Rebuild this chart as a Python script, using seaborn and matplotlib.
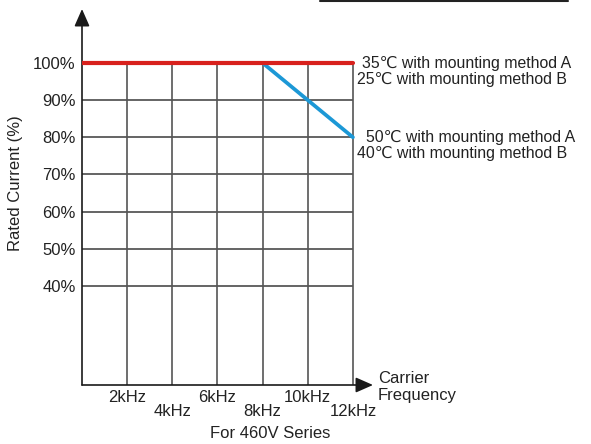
import matplotlib
matplotlib.use("Agg")
import matplotlib.pyplot as plt
from matplotlib.lines import Line2D
import pandas as pd
import seaborn as sns

# carrier frequency (kHz) vs rated current (%)
freq_flat = [0, 2, 4, 6, 8, 10, 12]
current_flat = [100, 100, 100, 100, 100, 100, 100]
freq_derate = [0, 8, 10, 12]
current_derate = [100, 100, 90, 80]

x_ticks = [2, 4, 6, 8, 10, 12]
x_labels = ["2kHz", "4kHz", "6kHz", "8kHz", "10kHz", "12kHz"]
y_ticks = [40, 50, 60, 70, 80, 90, 100]
y_labels = ["40%", "50%", "60%", "70%", "80%", "90%", "100%"]

label_top = ["35\u2103 with mounting method A", "25\u2103 with mounting method B"]
label_bottom = ["50\u2103 with mounting method A", "40\u2103 with mounting method B"]

sns.set_style("white")
plt.rcParams["font.family"] = ["Liberation Sans", "DejaVu Sans"]
plt.rcParams["font.size"] = 12

W, H = 591, 444
fig = plt.figure(figsize=(W / 100, H / 100), dpi=100)
ax = fig.add_axes([82 / W, (H - 385) / H, 291 / W, 376 / H])
x_min, x_max = 0, 12.89
y_min, y_max = 13.37, 114.5
ax.set_xlim(x_min, x_max)
ax.set_ylim(y_min, y_max)
for s in ax.spines.values():
    s.set_visible(False)

grid_col = "#3a3a3a"
ax.hlines(y_ticks[:-1], 0, 12, color=grid_col, lw=1.1, zorder=1)
ax.vlines(x_ticks, y_min, 100, color="#555555", lw=1.2, zorder=1)

flat = pd.DataFrame({"freq": freq_flat, "current": current_flat})
derate = pd.DataFrame({"freq": freq_derate, "current": current_derate})
sns.lineplot(data=derate, x="freq", y="current", color="#1c98d6", lw=2.7, ax=ax, zorder=3)
sns.lineplot(data=flat, x="freq", y="current", color="#d8211d", lw=3.0, ax=ax, zorder=4)

# axes with arrowheads
ax.annotate("", xy=(0, y_max), xytext=(0, y_min),
            arrowprops=dict(arrowstyle="-|>,head_length=0.75,head_width=0.33", color="#1a1a1a",
                            lw=1.2, shrinkA=0, shrinkB=0, mutation_scale=14), zorder=2)
ax.annotate("", xy=(x_max, y_min), xytext=(0, y_min),
            arrowprops=dict(arrowstyle="-|>,head_length=0.75,head_width=0.33", color="#1a1a1a",
                            lw=1.2, shrinkA=0, shrinkB=0, mutation_scale=14), zorder=2)

ax.set_xticks(x_ticks)
ax.set_xticklabels(x_labels)
ax.set_yticks(y_ticks)
ax.set_yticklabels(y_labels)
ax.tick_params(axis="both", length=0, labelsize=12, colors="#222222")
ax.tick_params(axis="y", pad=4.5)
for i, t in enumerate(ax.xaxis.get_major_ticks()):
    t.set_pad(3.5 if i % 2 == 0 else 13.5)

ax.set_xlabel("")
ax.set_ylabel("Rated Current (%)", fontsize=12, color="#222222")
ax.yaxis.set_label_coords((23 - 82) / 291, (385 - 183) / 376)

def px(x, y):
    return x / W, 1 - y / H

side = dict(fontsize=11.4, va="baseline", color="#222222")
fig.text(*px(362, 68), label_top[0], **side)
fig.text(*px(357, 84), label_top[1], **side)
fig.text(*px(366, 142), label_bottom[0], **side)
fig.text(*px(357, 158), label_bottom[1], **side)
fig.text(*px(378, 387), "Carrier\nFrequency", fontsize=12, va="center", ha="left",
         linespacing=1.1, color="#222222")
fig.text(*px(270, 433), "For 460V Series", fontsize=12, va="center", ha="center", color="#222222")

fig.add_artist(Line2D([320 / W, 568 / W], [1 - 1 / H, 1 - 1 / H], color="#222222", lw=1.5))

fig.savefig("out.png", dpi=100)
